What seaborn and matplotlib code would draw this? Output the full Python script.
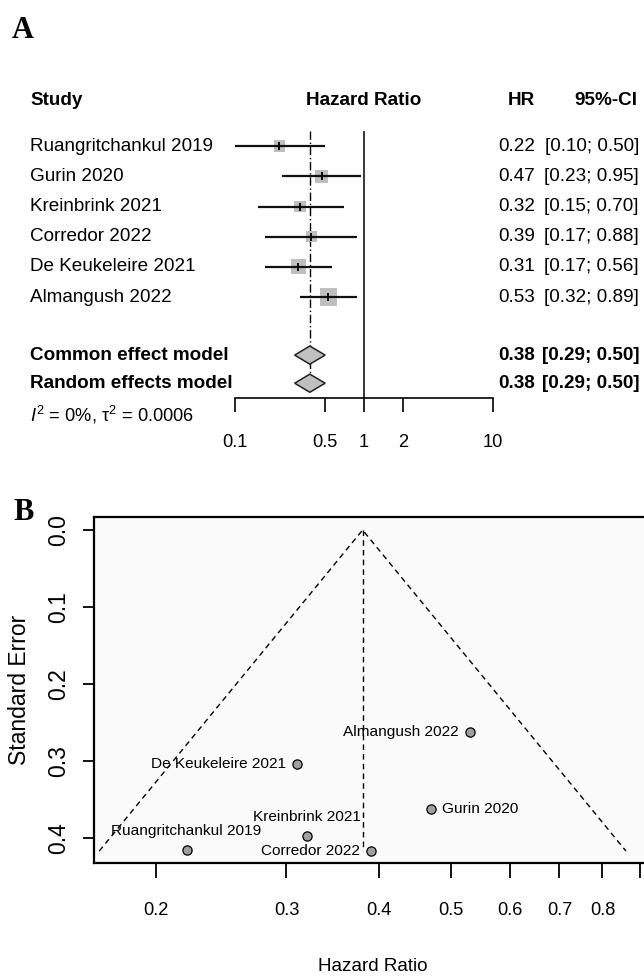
import numpy as np
import matplotlib
matplotlib.use('Agg')
import matplotlib.pyplot as plt
import seaborn as sns
from matplotlib import font_manager
from matplotlib.transforms import blended_transform_factory

# study data
studies = ['Ruangritchankul 2019', 'Gurin 2020', 'Kreinbrink 2021',
           'Corredor 2022', 'De Keukeleire 2021', 'Almangush 2022']
hr = [0.22, 0.47, 0.32, 0.39, 0.31, 0.53]
ciLow = [0.10, 0.23, 0.15, 0.17, 0.17, 0.32]
ciHigh = [0.50, 0.95, 0.70, 0.88, 0.56, 0.89]
weight = [11.6, 14.9, 12.6, 11.1, 21.1, 28.7]   # % weight (square size)
se = [0.416, 0.362, 0.398, 0.417, 0.304, 0.263]   # funnel plot standard errors

models = ['Common effect model', 'Random effects model']
modelHr = [0.38, 0.38]
modelLow = [0.29, 0.29]
modelHigh = [0.50, 0.50]
hetText = r'$I^2$ = 0%, τ$^2$ = 0.0006'

forestTicks = [0.1, 0.5, 1, 2, 10]
forestTickLabels = ['0.1', '0.5', '1', '2', '10']
funnelTicks = [0.2, 0.3, 0.4, 0.5, 0.6, 0.7, 0.8, 0.9]
funnelTickLabels = ['0.2', '0.3', '0.4', '0.5', '0.6', '0.7', '0.8', '']
seTicks = [0.0, 0.1, 0.2, 0.3, 0.4]
labelPos = ['top', 'right', 'top', 'left', 'left', 'left']

sns.set_theme(style='ticks')
names = {f.name for f in font_manager.fontManager.ttflist}
if 'Liberation Sans Narrow' in names:
	narrow = 'Liberation Sans Narrow'
	k = 1.0
else:
	narrow = 'Liberation Sans'
	k = 0.85
plt.rcParams['font.family'] = [narrow, 'DejaVu Sans']
plt.rcParams['mathtext.fontset'] = 'custom'
plt.rcParams['mathtext.rm'] = narrow
plt.rcParams['mathtext.it'] = narrow + ':italic'
plt.rcParams['axes.unicode_minus'] = False
for key in ['text.color', 'axes.labelcolor', 'xtick.color', 'ytick.color', 'axes.edgecolor']:
	plt.rcParams[key] = 'black'

W, H = 644, 977
fig = plt.figure(figsize=(W / 100, H / 100), dpi=100)
fig.patch.set_facecolor('white')

def fx(px):
	return px / W

def fy(py):
	return 1 - py / H

textSize = 16 * k
tickSize = 15.5 * k
labSize = 13 * k

# ---------------- panel A: forest plot ----------------
axF = fig.add_axes([fx(235), fy(398), fx(493 - 235), (398 - 131) / H])
axF.set_xscale('log')
axF.set_xlim(0.1, 10)
axF.set_ylim(9.34, 0.5)
axF.set_facecolor('none')
for s in ['left', 'top', 'right']:
	axF.spines[s].set_visible(False)
axF.spines['bottom'].set_linewidth(1.2)
axF.set_yticks([])
axF.xaxis.set_minor_locator(matplotlib.ticker.NullLocator())
axF.set_xticks(forestTicks, forestTickLabels)
axF.tick_params(axis='x', length=10, width=1.2, pad=16, labelsize=tickSize)

rows = np.arange(1, len(studies) + 1)
modelRows = [7.92, 8.85]

axF.axvline(1, color='black', lw=1.1, zorder=1)
axF.plot([modelHr[0], modelHr[0]], [0.5, modelRows[1]], color='black', lw=1, ls=(0, (6, 2, 1, 2)), zorder=1)
axF.hlines(rows, ciLow, ciHigh, color='#111111', lw=1.6, zorder=3)
sidePt = 3.3 * np.sqrt(weight) * 0.72
sns.scatterplot(x=hr, y=rows, ax=axF, marker='s', s=sidePt ** 2, color='#bebebe', linewidth=0, legend=False, zorder=2)
sns.scatterplot(x=hr, y=rows, ax=axF, marker='|', s=36, color='black', linewidth=1.3, legend=False, zorder=4)
for r, m, lo, hi in zip(modelRows, modelHr, modelLow, modelHigh):
	axF.fill([lo, m, hi, m], [r, r - 0.3, r, r + 0.3], facecolor='#c0c0c0', edgecolor='#222222', lw=1.1, zorder=3)

tr = blended_transform_factory(fig.transFigure, axF.transData)
headerRow = -0.5
axF.text(fx(30), headerRow, 'Study', transform=tr, fontsize=textSize, fontweight='bold', va='center', ha='left')
axF.text(fx(364), headerRow, 'Hazard Ratio', transform=tr, fontsize=textSize, fontweight='bold', va='center', ha='center')
axF.text(fx(535), headerRow, 'HR', transform=tr, fontsize=textSize, fontweight='bold', va='center', ha='right')
axF.text(fx(637), headerRow, '95%-CI', transform=tr, fontsize=textSize, fontweight='bold', va='center', ha='right')
for r, name, v, lo, hi in zip(rows, studies, hr, ciLow, ciHigh):
	axF.text(fx(30), r, name, transform=tr, fontsize=textSize, va='center', ha='left')
	axF.text(fx(535), r, '%.2f' % v, transform=tr, fontsize=textSize, va='center', ha='right')
	axF.text(fx(639), r, '[%.2f; %.2f]' % (lo, hi), transform=tr, fontsize=textSize, va='center', ha='right')
for r, name, v, lo, hi in zip(modelRows, models, modelHr, modelLow, modelHigh):
	axF.text(fx(30), r, name, transform=tr, fontsize=textSize, fontweight='bold', va='center', ha='left')
	axF.text(fx(535), r, '%.2f' % v, transform=tr, fontsize=textSize, fontweight='bold', va='center', ha='right')
	axF.text(fx(639), r, '[%.2f; %.2f]' % (lo, hi), transform=tr, fontsize=textSize, fontweight='bold', va='center', ha='right')
axF.text(fx(30), 9.9, hetText, transform=tr, fontsize=tickSize, va='center', ha='left')

fig.text(fx(12), fy(30), 'A', family='Liberation Serif', fontweight='bold', fontsize=22, va='center', ha='left')

# ---------------- panel B: funnel plot ----------------
axP = fig.add_axes([fx(94), fy(863), fx(651 - 94), (863 - 517) / H])
axP.set_xscale('log')
axP.set_xlim(0.1651, 0.93)
axP.set_ylim(0.4325, -0.0169)
axP.set_facecolor('#fafafa')
for s in axP.spines.values():
	s.set_linewidth(1.6)

seMax = max(se)
pooled = modelHr[0]
dash = (0, (4, 3))
axP.plot([pooled, pooled], [0, seMax], color='black', lw=1, ls=dash)
axP.plot([pooled * np.exp(-1.96 * seMax), pooled, pooled * np.exp(1.96 * seMax)], [seMax, 0, seMax], color='black', lw=1, ls=dash)
sns.scatterplot(x=hr, y=se, ax=axP, s=44, color='#a0a0a0', edgecolor='black', linewidth=0.9, legend=False, zorder=3)

for name, x, y, pos in zip(studies, hr, se, labelPos):
	if pos == 'top':
		off, ha, va = (0, 14), 'center', 'center'
	elif pos == 'right':
		off, ha, va = (8, 0), 'left', 'center'
	else:
		off, ha, va = (-8, 0), 'right', 'center'
	axP.annotate(name, (x, y), xytext=off, textcoords='offset points', ha=ha, va=va, fontsize=labSize)

axP.xaxis.set_minor_locator(matplotlib.ticker.NullLocator())
axP.set_xticks(funnelTicks, funnelTickLabels)
axP.set_yticks(seTicks, ['%.1f' % t for t in seTicks])
axP.tick_params(axis='x', length=11, width=1.3, pad=17, labelsize=tickSize)
axP.tick_params(axis='y', length=8, width=1.3, pad=9, labelsize=16.5)
for lab in axP.get_yticklabels():
	lab.set_rotation(90)
	lab.set_va('center')
	lab.set_family(['Liberation Sans', 'DejaVu Sans'])
axP.set_xlabel('Hazard Ratio', fontsize=textSize, labelpad=28)
axP.set_ylabel('Standard Error', fontsize=16.5, family=['Liberation Sans', 'DejaVu Sans'], labelpad=12)

fig.text(fx(13), fy(513), 'B', family='Liberation Serif', fontweight='bold', fontsize=22, va='center', ha='left')

fig.savefig('out.png', dpi=100)
